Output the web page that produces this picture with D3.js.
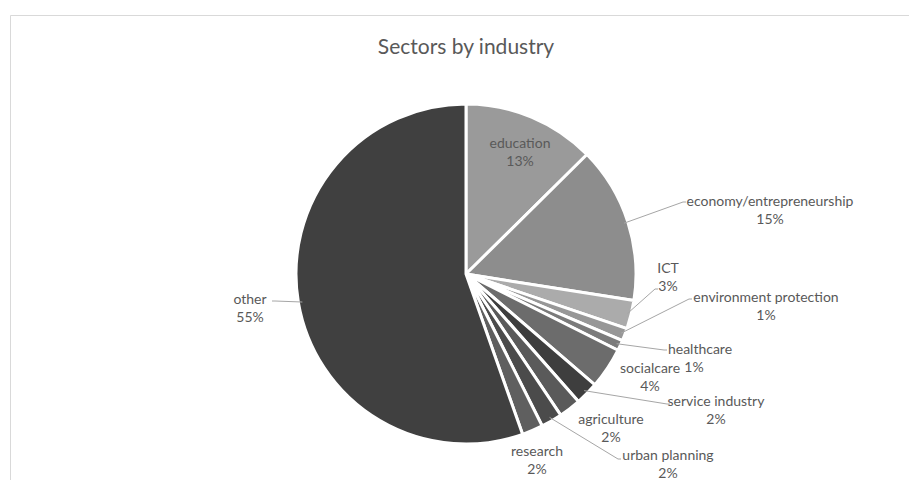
<!DOCTYPE html>
<meta charset="utf-8">
<script src="https://d3js.org/d3.v7.min.js"></script>
<style>
  body { margin: 0; background: #fff; font-family: Lato, "Open Sans", sans-serif; }
  .lbl { font-size: 14px; fill: #595959; }
  .leader { fill: none; stroke: #a6a6a6; stroke-width: 1; }
</style>
<div id="chart"></div>
<script>
  // sectors, clockwise from 12 o'clock
  var sectors = ["education", "economy/entrepreneurship", "ICT", "environment protection",
    "healthcare", "socialcare", "service industry", "agriculture", "urban planning", "research", "other"];
  var shares = [12.6, 14.9, 2.7, 1.2, 1.0, 3.9, 2.2, 2.1, 2.0, 2.0, 55.4];
  var shown = ["13%", "15%", "3%", "1%", "1%", "4%", "2%", "2%", "2%", "2%", "55%"];
  var greys = ["#9a9a9a", "#8d8d8d", "#ababab", "#979797", "#7b7b7b", "#6c6c6c",
    "#3e3e3e", "#5a5a5a", "#4b4b4b", "#5f5f5f", "#404040"];

  var W = 909, H = 480, cx = 466, cy = 274, r = 170;

  // label layout: text centre, leader end (null = no leader), x of the % line
  var layout = [
    { x: 520, y: 148, line: null },
    { x: 770, y: 206, line: [683, 202] },
    { x: 668, y: 273, line: [655, 289] },
    { x: 766, y: 302, line: [689, 299] },
    { x: 700, y: 354, line: [664, 350], px: 694 },
    { x: 650, y: 373, line: null },
    { x: 716, y: 406, line: [667, 404] },
    { x: 611, y: 424, line: null },
    { x: 668, y: 460, line: [618, 459] },
    { x: 537, y: 456, line: null },
    { x: 250, y: 304, line: [275, 301] }
  ];

  var svg = d3.select("#chart").append("svg")
    .attr("width", W).attr("height", H);

  // chart area border
  svg.append("path")
    .attr("d", "M10.5," + H + "V15.5H" + W)
    .attr("fill", "none").attr("stroke", "#d9d9d9");

  svg.append("text")
    .attr("x", cx).attr("y", 54)
    .attr("text-anchor", "middle")
    .style("font-size", "21px").style("fill", "#595959")
    .text("Sectors by industry");

  var pie = d3.pie().sort(null).value(function (d) { return d; });
  var arcs = pie(shares);
  var arc = d3.arc().innerRadius(0).outerRadius(r);
  var edge = d3.arc().innerRadius(r - 4).outerRadius(r - 4);

  var g = svg.append("g").attr("transform", "translate(" + cx + "," + cy + ")");

  g.selectAll("path.slice")
    .data(arcs)
    .enter().append("path")
    .attr("class", "slice")
    .attr("d", arc)
    .attr("fill", function (d, i) { return greys[i]; })
    .attr("stroke", "#fff")
    .attr("stroke-width", 3)
    .attr("stroke-linejoin", "round");

  // leader lines
  arcs.forEach(function (d, i) {
    var L = layout[i];
    if (!L.line) return;
    var p = edge.centroid(d);
    var ex = L.line[0] - cx, ey = L.line[1] - cy;
    svg.append("path")
      .attr("class", "leader")
      .attr("transform", "translate(" + cx + "," + cy + ")")
      .attr("d", "M" + p[0] + "," + p[1] + "L" + ex + "," + ey + "L" + (i === 10 ? ex - 3 : ex + 3) + "," + ey);
  });

  var lbl = svg.selectAll("g.lab")
    .data(arcs)
    .enter().append("g")
    .attr("class", "lab");

  lbl.append("text")
    .attr("class", "lbl")
    .attr("text-anchor", "middle")
    .attr("x", function (d, i) { return layout[i].x; })
    .attr("y", function (d, i) { return layout[i].y; })
    .text(function (d, i) { return sectors[i]; });

  lbl.append("text")
    .attr("class", "lbl")
    .attr("text-anchor", "middle")
    .attr("x", function (d, i) { return layout[i].px || layout[i].x; })
    .attr("y", function (d, i) { return layout[i].y + 18; })
    .text(function (d, i) { return shown[i]; });
</script>
